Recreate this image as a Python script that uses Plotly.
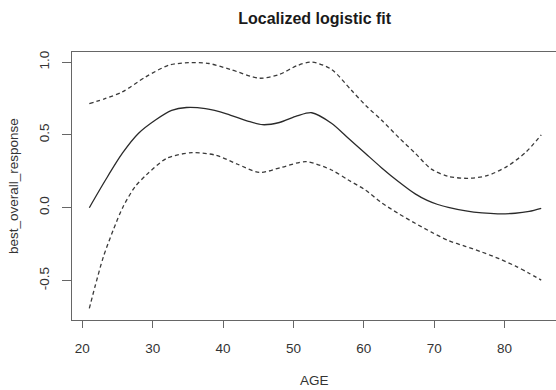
import plotly.graph_objects as go

# Fitted curve (solid)
fit_age = [21, 23.3, 25.7, 28.0, 30.4, 32.7, 34.8, 37.5, 40.5, 43.5, 45.6, 48, 50.5, 52.6, 55.4, 57.8, 60.2, 62.5, 64.9, 67.3, 69.0, 70.5, 72.0, 74.5, 76.8, 79, 81.5, 83.5, 85.2]
fit_val = [0.0, 0.19, 0.374, 0.511, 0.602, 0.668, 0.688, 0.68, 0.645, 0.595, 0.57, 0.585, 0.63, 0.652, 0.58, 0.477, 0.374, 0.275, 0.18, 0.095, 0.05, 0.022, 0.003, -0.022, -0.036, -0.042, -0.038, -0.025, -0.004]

# Upper confidence band (dashed)
up_age = [21, 23.3, 25.7, 29.0, 32.3, 35.1, 38, 41, 45.2, 48, 50.5, 52.6, 55.4, 58.2, 60.3, 62.5, 65, 67.3, 69.6, 72, 74.8, 77.5, 80.3, 83, 85.2]
up_val = [0.714, 0.75, 0.795, 0.898, 0.978, 0.996, 0.99, 0.95, 0.889, 0.915, 0.975, 1.0, 0.95, 0.808, 0.70, 0.602, 0.48, 0.374, 0.265, 0.215, 0.202, 0.22, 0.282, 0.38, 0.5]

# Lower confidence band (dashed)
lo_age = [21, 21.8, 23.0, 24.4, 25.8, 27.5, 29.1, 32.0, 35.6, 39, 42, 45.2, 48.3, 51.8, 55.4, 57.8, 60.2, 62.5, 64.9, 67.3, 69.6, 72.0, 74.4, 76.8, 79.2, 81.5, 83.4, 85.2]
lo_val = [-0.691, -0.543, -0.337, -0.153, 0.007, 0.144, 0.225, 0.339, 0.378, 0.36, 0.3, 0.242, 0.277, 0.316, 0.259, 0.19, 0.122, 0.035, -0.04, -0.107, -0.168, -0.225, -0.265, -0.305, -0.35, -0.4, -0.448, -0.497]

x_ticks = [20, 30, 40, 50, 60, 70, 80]
y_ticks = [-0.5, 0.0, 0.5, 1.0]
y_tick_text = ["-0.5", "0.0", "0.5", "1.0"]

fig = go.Figure()
line_common = dict(width=1.3, shape="spline", smoothing=0.8)
fig.add_trace(go.Scatter(x=fit_age, y=fit_val, mode="lines",
                         line=dict(color="#2a2a2a", **line_common)))
fig.add_trace(go.Scatter(x=up_age, y=up_val, mode="lines",
                         line=dict(color="#3a3a3a", dash="4px,3px", **line_common)))
fig.add_trace(go.Scatter(x=lo_age, y=lo_val, mode="lines",
                         line=dict(color="#3a3a3a", dash="4px,3px", **line_common)))

font_family = "Liberation Sans, Arial, sans-serif"
fig.update_layout(
    width=556, height=390,
    margin=dict(l=72, r=0, t=52, b=70),
    paper_bgcolor="white", plot_bgcolor="white",
    showlegend=False,
    font=dict(family=font_family, color="#333333", size=13.5),
    title=dict(text="<b>Localized logistic fit</b>", x=0.566, xanchor="center",
               y=0.952, yanchor="middle", font=dict(size=16, color="#1a1a1a")),
    xaxis=dict(range=[18.54, 87.3], tickvals=x_ticks, ticks="outside", ticklen=7,
               tickcolor="#666666", showline=True, linecolor="#666666", linewidth=1,
               mirror=True, showgrid=False, zeroline=False,
               ticklabelstandoff=9, tickfont=dict(size=13.5)),
    yaxis=dict(range=[-0.771, 1.069], tickvals=y_ticks, ticktext=y_tick_text,
               ticks="outside", ticklen=9, tickcolor="#666666", tickangle=-90,
               showline=True, linecolor="#666666", linewidth=1, mirror=True,
               showgrid=False, zeroline=False,
               ticklabelstandoff=8, tickfont=dict(size=13.5)),
    annotations=[
        dict(text="AGE", xref="paper", yref="paper", x=0.5, y=0, xanchor="center",
             yanchor="middle", yshift=-60, showarrow=False, font=dict(size=13.5)),
        dict(text="best_overall_response", xref="paper", yref="paper", x=0, y=0.5,
             xanchor="center", yanchor="middle", xshift=-59, textangle=-90,
             showarrow=False, font=dict(size=13.5)),
    ],
)

fig.write_html("out.html")
